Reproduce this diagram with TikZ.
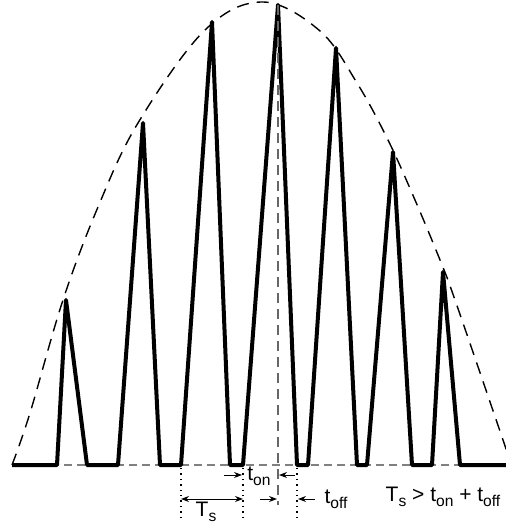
\documentclass[tikz,border=0pt]{standalone}
\usepackage{fontspec}
\setmainfont{Liberation Sans}
\usetikzlibrary{arrows.meta}
\newcommand{\lowsub}[1]{\raisebox{-0.45ex}{\fontsize{7.8}{8}\selectfont #1}}
\tikzset{pulse/.style={line width=2pt,line join=round},
 envelope/.style={line width=0.7pt,dash pattern=on 6pt off 4pt},
 baseline/.style={line width=0.6pt,gray,dash pattern=on 4pt off 2.5pt},
 guide/.style={line width=0.7pt,dotted},
 marker/.style={line width=0.6pt,gray!80!black,dash pattern=on 5pt off 3pt},
 dim/.style={-{Stealth[length=4pt,width=3pt]},line width=0.5pt},
 lbl/.style={font=\fontsize{10.5}{12}\selectfont,inner sep=0pt}}

\begin{document}
\begin{tikzpicture}[x=0.5pt,y=-0.5pt]
\useasboundingbox (0,0) rectangle (506,528);
% time axis and envelope
\draw[baseline] (12,465)--(506,465);
\begin{scope}
\clip (0,0) rectangle (506,528);
\draw[envelope] plot[smooth,tension=0.6] coordinates {(12,465) (30,413) (63,300)
  (98,207) (138,123) (205,30) (263,2) (320,31) (357,83) (388,140) (415,200)
  (440,260) (455,300) (503,440) (513,470)};
\end{scope}
% sampled pulses
\draw[pulse] (12,465) foreach \a/\px/\py/\b in {57/66/300/87,118/143/123/160,
  181/212/22/230,243/278/5/297,308/336/48/357,367/393/152/412,432/443/272/460}
  { -- (\a,465) -- (\px,\py) -- (\b,465) } -- (506,465);
% guides
\draw[marker] (278,5)--(278,505);
\foreach \x in {181,243,297}
  \draw[guide] (\x,468)--(\x,520);
% dimensions
\coordinate (p0) at (181,499);
\coordinate (p1) at (243,499);
\draw[dim,{Stealth[length=4pt,width=3pt]}-{Stealth[length=4pt,width=3pt]}] (p0)--(p1);
\draw[dim] (224,475)--(242,475);
\draw[dim] (295,475)--(279,475);
\draw[dim] (260,499)--(277,499);
\draw[dim] (315,499)--(298,499);
\node[lbl] (ts) at (206,512) {T\lowsub{s}};
\node[lbl] (ton) at (259,476) {t\lowsub{on}};
\node[lbl] (toff) at (336,499) {t\lowsub{off}};
\node[lbl] (rule) at (443,497) {T\lowsub{s} > t\lowsub{on} + t\lowsub{off}};
\end{tikzpicture}
\end{document}
